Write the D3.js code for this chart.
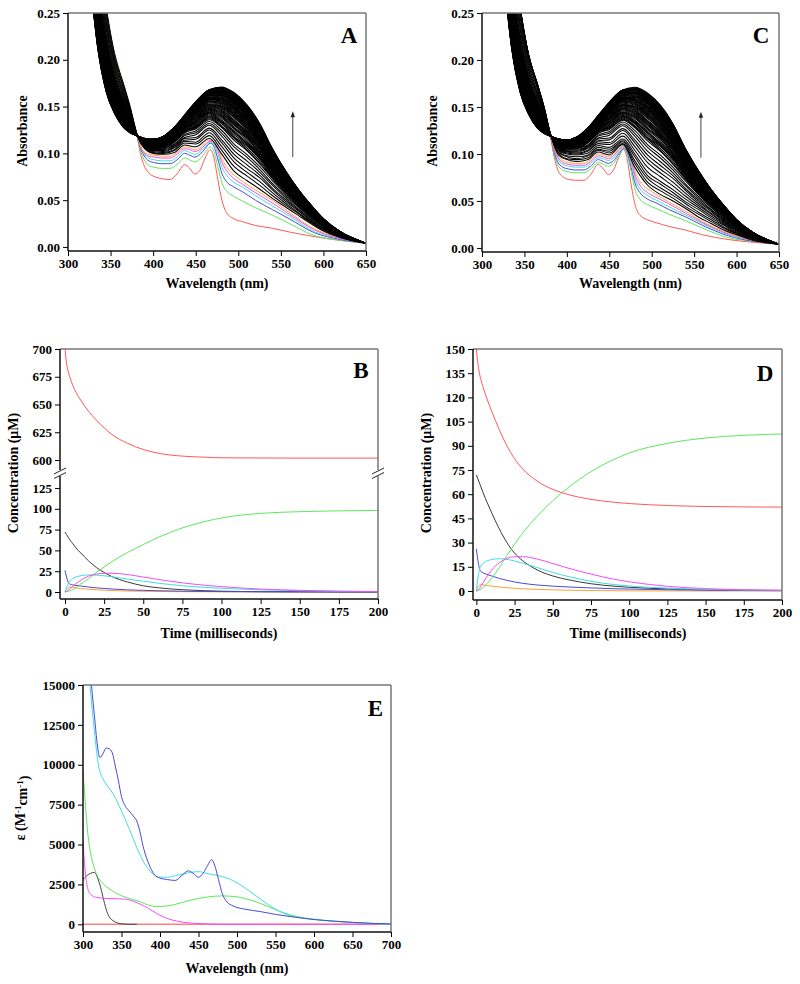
<!DOCTYPE html>
<html><head><meta charset="utf-8">
<script src="https://cdn.jsdelivr.net/npm/d3@7/dist/d3.min.js"></script>
<style>
body{margin:0;background:#fff;}
svg text{font-family:"Liberation Serif","Times New Roman",serif;font-weight:bold;fill:#000;}
.tick text{font-size:13px;}
.tick line{stroke:#000;stroke-width:1;}
.ttl{font-size:14px;}
.lbl{font-size:23px;}
</style></head><body>
<svg id="chart" width="800" height="984"></svg>
<script>
// ---------- Panels A / C : spectral time course (absorbance x1000) ----------
const BAND_WL = [325,335,345,355,365,373,381,390,400,412,425,437,450,466,480,495,510,525,540,555,570,585,600,620,650];
const bandSpectra = [
[400,320,255,205,175,150,120,105,100,99,101,109,107,116,100,81,71,62,52,43,34,25,17,10,4],
[394,314,250,201,172,148,120,106,101,100,103,111,110,119,104,86,76,66,55,45,36,26,18,10,4],
[388,308,245,198,170,147,120,106,102,101,104,113,112,122,108,91,80,70,58,47,37,27,19,11,4],
[383,302,240,195,167,145,120,107,103,102,106,114,115,125,112,95,84,74,61,49,39,28,19,11,4],
[378,297,236,192,165,144,120,107,103,103,107,116,117,127,115,99,88,77,63,51,40,29,20,11,4],
[373,292,232,189,163,143,120,108,104,104,108,117,120,130,119,103,92,80,66,53,41,30,20,12,4],
[368,287,227,186,161,141,120,108,105,105,109,119,122,132,122,107,96,83,68,55,43,31,21,12,4],
[363,282,224,183,159,140,120,109,105,106,110,120,124,134,125,110,99,86,71,57,44,32,22,12,4],
[359,278,220,181,157,139,120,109,106,106,112,122,126,136,128,114,103,89,73,58,45,33,22,12,4],
[355,274,217,178,155,138,120,110,106,107,113,123,128,138,130,117,106,92,75,60,46,34,23,13,4],
[351,270,213,176,153,137,120,110,107,108,114,124,129,140,133,120,109,95,77,61,47,34,23,13,4],
[348,266,210,174,152,136,120,111,108,109,115,125,131,142,135,123,111,97,78,62,48,35,24,13,4],
[344,263,207,172,150,135,120,111,108,109,115,126,133,144,138,126,114,99,80,64,49,36,24,13,4],
[341,259,204,170,149,134,119,111,108,110,116,127,134,145,140,128,117,101,82,65,50,36,24,13,4],
[338,256,202,168,147,133,119,112,109,110,117,128,135,147,142,131,119,104,83,66,51,37,25,14,4],
[335,253,199,166,146,133,119,112,109,111,118,129,137,148,144,133,121,105,85,67,51,37,25,14,4],
[332,250,197,164,145,132,119,112,110,111,119,130,138,150,146,135,123,107,86,68,52,38,25,14,4],
[329,247,195,163,143,131,119,112,110,112,119,131,139,151,148,138,126,109,88,69,53,39,26,14,4],
[327,245,192,161,142,131,119,113,111,112,120,131,141,152,150,140,127,111,89,70,54,39,26,14,4],
[324,242,190,160,141,130,119,113,111,113,120,132,142,153,151,142,129,112,90,71,54,39,26,14,4],
[322,240,188,158,140,129,119,113,111,113,121,133,143,155,153,143,131,114,91,72,55,40,27,14,4],
[320,238,186,157,139,129,119,113,111,114,122,133,144,156,154,145,133,115,92,73,55,40,27,15,4],
[318,236,185,156,138,128,119,114,112,114,122,134,145,157,156,147,134,117,94,74,56,41,27,15,4],
[316,234,183,155,137,128,119,114,112,114,123,135,145,158,157,148,136,118,94,74,56,41,27,15,4],
[314,232,181,153,137,127,119,114,112,115,123,135,146,159,158,150,137,119,95,75,57,41,28,15,4],
[312,230,180,152,136,127,119,114,113,115,124,136,147,159,159,151,139,121,96,76,57,42,28,15,4],
[311,228,178,151,135,126,119,114,113,115,124,136,148,160,160,153,140,122,97,76,58,42,28,15,4],
[309,226,177,150,134,126,119,115,113,116,124,137,149,161,162,154,141,123,98,77,58,42,28,15,4],
[307,225,176,150,134,125,119,115,113,116,125,137,149,162,163,155,142,124,99,77,59,43,29,15,4],
[306,223,175,149,133,125,119,115,113,116,125,138,150,163,164,156,144,125,99,78,59,43,29,15,4],
[305,222,173,148,132,125,119,115,114,116,126,138,151,163,165,157,145,126,100,78,59,43,29,15,4],
[303,221,172,147,132,124,119,115,114,117,126,138,151,164,165,158,146,126,101,79,60,43,29,16,4],
[302,219,171,146,131,124,119,115,114,117,126,139,152,165,166,159,147,127,101,79,60,44,29,16,4],
[301,218,170,146,131,124,119,115,114,117,127,139,152,165,167,160,147,128,102,80,60,44,29,16,4],
[300,217,169,145,130,123,119,116,114,117,127,140,153,166,168,161,148,129,103,80,61,44,29,16,4],
[299,216,168,144,130,123,119,116,115,117,127,140,153,166,168,162,149,130,103,81,61,44,30,16,4],
[298,215,167,144,129,123,119,116,115,118,127,140,154,167,169,163,150,130,104,81,61,45,30,16,4],
[297,214,167,143,129,122,119,116,115,118,128,140,154,167,170,164,151,131,104,81,62,45,30,16,4],
[296,213,166,143,128,122,119,116,115,118,128,141,155,168,170,164,151,131,105,82,62,45,30,16,4],
[295,212,165,142,128,122,119,116,115,118,128,141,155,168,171,165,152,132,105,82,62,45,30,16,4]
];
// later spectra recorded between the ones above (dense part of the band)
const bandSpectraLate = [
[357,276,218,180,156,138,120,110,106,106,112,122,127,137,129,116,104,90,74,59,46,34,22,12,4],
[353,272,215,177,154,138,120,110,106,108,114,124,128,139,132,118,108,94,76,60,46,34,23,13,4],
[350,268,212,175,152,136,120,110,108,108,114,124,130,141,134,122,110,96,78,62,48,34,24,13,4],
[346,264,208,173,151,136,120,111,108,109,115,126,132,143,136,124,112,98,79,63,48,36,24,13,4],
[342,261,206,171,150,134,120,111,108,110,116,126,134,144,139,127,116,100,81,64,50,36,24,13,4],
[340,258,203,169,148,134,119,112,108,110,116,128,134,146,141,130,118,102,82,66,50,36,24,14,4],
[336,254,200,167,146,133,119,112,109,110,118,128,136,148,143,132,120,104,84,66,51,37,25,14,4],
[334,252,198,165,146,132,119,112,110,111,118,130,138,149,145,134,122,106,86,68,52,38,25,14,4],
[330,248,196,164,144,132,119,112,110,112,119,130,138,150,147,136,124,108,87,68,52,38,26,14,4],
[328,246,194,162,142,131,119,112,110,112,120,131,140,152,149,139,126,110,88,70,54,39,26,14,4],
[326,244,191,160,142,130,119,113,111,112,120,132,142,152,150,141,128,112,90,70,54,39,26,14,4],
[323,241,189,159,140,130,119,113,111,113,120,132,142,154,152,142,130,113,90,72,54,40,26,14,4],
[321,239,187,158,140,129,119,113,111,114,122,133,144,156,154,144,132,114,92,72,55,40,27,14,4],
[319,237,186,156,138,128,119,114,112,114,122,134,144,156,155,146,134,116,93,74,56,40,27,15,4],
[317,235,184,156,138,128,119,114,112,114,122,134,145,158,156,148,135,118,94,74,56,41,27,15,4],
[315,233,182,154,137,128,119,114,112,114,123,135,146,158,158,149,136,118,94,74,56,41,28,15,4],
[313,231,180,152,136,127,119,114,112,115,124,136,146,159,158,150,138,120,96,76,57,42,28,15,4],
[312,229,179,152,136,126,119,114,113,115,124,136,148,160,160,152,140,122,96,76,58,42,28,15,4],
[310,227,178,150,134,126,119,114,113,116,124,136,148,160,161,154,140,122,98,76,58,42,28,15,4],
[308,226,176,150,134,126,119,115,113,116,124,137,149,162,162,154,142,124,98,77,58,42,28,15,4],
[306,224,176,150,134,125,119,115,113,116,125,138,150,162,164,156,143,124,99,78,59,43,29,15,4],
[306,222,174,148,132,125,119,115,114,116,126,138,150,163,164,156,144,126,100,78,59,43,29,15,4],
[304,222,172,148,132,124,119,115,114,116,126,138,151,164,165,158,146,126,100,78,60,43,29,16,4],
[302,220,172,146,132,124,119,115,114,117,126,138,152,164,166,158,146,126,101,79,60,44,29,16,4],
[302,218,170,146,131,124,119,115,114,117,126,139,152,165,166,160,147,128,102,80,60,44,29,16,4],
[300,218,170,146,130,124,119,116,114,117,127,140,152,166,168,160,148,128,102,80,60,44,29,16,4],
[300,216,168,144,130,123,119,116,114,117,127,140,153,166,168,162,148,130,103,80,61,44,30,16,4],
[298,216,168,144,130,123,119,116,115,118,127,140,154,166,168,162,150,130,104,81,61,44,30,16,4],
[298,214,167,144,129,122,119,116,115,118,128,140,154,167,170,164,150,130,104,81,62,45,30,16,4],
[296,214,166,143,128,122,119,116,115,118,128,140,154,168,170,164,151,131,104,82,62,45,30,16,4],
[296,212,166,142,128,122,119,116,115,118,128,141,155,168,170,164,152,132,105,82,62,45,30,16,4]
];
// panel C: first black spectra, lying just above its orange trace
const bandSpectraEarlyC = [
[400,320,255,205,175,150,120,99,94,92,94,102,99,110,86,67,57,50,42,33,26,19,14,8,4],
[400,320,255,205,175,150,120,101,95,94,96,104,101,111,90,70,61,53,44,36,28,21,15,9,4],
[400,320,255,205,175,150,120,102,97,95,98,105,103,113,93,74,64,56,47,38,30,22,15,9,4],
[400,320,255,205,175,150,120,104,98,97,99,107,105,114,97,77,68,59,49,41,32,24,16,10,4]
];
const COL_WL = [340,350,360,370,376,381,385,389,395,402,410,420,428,437,443,449,455,461,467,471,476,481,486,495,505,520,540,560,590,620,650];
const redA     = [284,226,188,157,138,119,100,88,79,75,73,72,78,88,84,78,82,95,104,97,72,49,37,30,27,23,20,16,11,7,4];
const greenA   = [284,226,188,157,138,120,104,94,87,85,84,84,88,95,93,91,94,101,107,103,86,68,60,54,49,42,34,25,12,7,4];
const blueA    = [284,226,188,157,138,120,106,98,92,90,89,89,93,100,98,96,99,105,111,108,94,78,70,64,59,50,40,30,15,8,4];
const cyanA    = [284,226,188,157,138,120,107,100,95,93,92,92,96,103,101,99,102,107,112,110,99,85,77,69,64,55,44,33,16,9,4];
const magentaA = [284,226,188,157,138,120,108,101,97,96,95,95,99,105,104,102,104,109,113,111,103,90,82,73,67,58,47,35,18,9,4];
const orangeA  = [284,226,188,157,138,120,109,102,99,98,97,97,101,107,106,104,106,111,114,113,106,94,86,77,70,61,50,37,19,10,4];
const redC     = [284,226,188,157,138,117,97,84,76,73,72,72,78,89,84,78,83,96,105,95,66,44,35,30,27,23,19,14,9,6,4];
const greenC   = [284,226,188,157,138,118,100,89,83,81,80,80,84,91,89,87,90,98,105,100,80,60,52,46,42,36,29,21,11,7,4];
const blueC    = [284,226,188,157,138,118,102,92,86,84,83,83,87,94,92,90,93,100,106,102,85,67,59,52,48,41,33,24,13,7,4];
const cyanC    = [284,226,188,157,138,119,104,95,89,87,86,86,90,96,95,93,96,102,107,104,89,72,63,56,51,44,35,26,14,8,4];
const magentaC = [284,226,188,157,138,119,105,97,91,89,88,88,92,98,97,95,98,104,108,105,92,76,67,59,54,47,37,27,15,8,4];
const orangeC  = [284,226,188,157,138,120,107,99,93,91,90,90,94,100,99,97,100,105,109,106,95,80,71,63,57,49,39,28,16,8,4];

// ---------- Panels B / D : concentrations (µM) vs time (ms) ----------
const TIME_MS = [0,1,2,3,4,5,7,10,15,20,25,30,40,50,60,75,90,100,125,150,175,200];
const bRed     = [700,687,680,675,671,667,661,654,644,636,629,623,615,609.5,606,603.5,602.5,602,601.8,601.7,601.7,601.7];
const bGreen   = [0,0.3,0.8,1.5,2.2,3,5,9.5,16,23.5,30,36.5,47.5,57,66,77,85,89,94.5,96.5,97.5,98];
const bBlack   = [72,69,66,63,60.5,58,53,47,37.5,29.5,23.5,18.5,12,7.5,5,2.8,1.5,1,0.4,0.2,0.1,0];
const bBlue    = [26,18,12,9.5,9,8.5,7.9,7.2,6,5,4.3,3.6,2.6,2,1.5,1,0.7,0.5,0.3,0.2,0.1,0.1];
const bCyan    = [0,5,10,13,15,16.2,18,19.5,20.5,20.3,19.5,18.3,15.5,13,10.5,7.5,5.5,4.5,2.7,1.6,0.9,0.5];
const bMagenta = [0,0.8,2,4,5.5,7,10,14,19,21.5,22.5,22.5,21,18,15,11,8,6.5,3.5,2,1,0.5];
const bOrange  = [0,3.5,5.5,6,6,5.7,5,4.2,3.3,2.7,2.2,1.8,1.2,0.9,0.6,0.4,0.3,0.2,0.1,0,0,0];
const dRed     = [150,141,135,131,127.5,124.5,119,111.5,100,90,82,76,68,63,59.8,56.8,55,54.2,53,52.4,52.1,52];
const dGreen   = [0,0.2,0.6,1.2,1.9,2.7,4.5,8,14.5,22,29,35.5,46.5,56,64,74,81.5,85.5,91.5,94.8,96.5,97.3];
const dBlack   = [72,69.5,67,64.5,62,59.5,55,48.5,38.5,30,23.5,19,13,9.3,7,4.5,3,2.3,1.3,0.7,0.4,0.3];
const dBlue    = [26,19,14,12,11.4,11,10.2,9.3,7.8,6.6,5.6,4.8,3.7,3,2.5,1.9,1.4,1.2,0.8,0.5,0.3,0.2];
const dCyan    = [0,8,13,15.5,16.8,17.6,18.7,19.5,20,19.6,18.6,17.3,14.5,11.5,9,6,4,3.1,1.8,1,0.6,0.4];
const dMagenta = [0,0.5,1.5,3,4.5,6,9,13,17.5,20.2,21.2,21.3,19.8,17,14.2,10.5,7.3,5.7,2.9,1.5,0.8,0.5];
const dOrange  = [0,2.5,3.6,4,3.9,3.7,3.4,3,2.5,2,1.7,1.4,1,0.7,0.5,0.3,0.2,0.1,0.05,0,0,0];

// ---------- Panel E : species spectra, epsilon (M-1 cm-1) ----------
const eBlueWL  = [305,311,315,318,322,326,330,334,338,342,346,350,355,360,365,370,374,378,383,388,393,400,410,420,428,437,443,450,456,462,467,471,476,481,487,495,510,530,550,575,600,625,650,675,700];
const eBlue    = [19000,15000,13000,11500,10450,10700,11050,11000,10750,9900,9000,8000,7400,7100,6800,6450,5800,4900,4100,3500,3100,2900,2800,2750,3050,3350,3200,2950,3200,3700,4050,3700,2800,1900,1400,1150,950,800,620,450,300,200,120,60,20];
const eCyanWL  = [305,309,315,320,325,330,340,350,360,370,380,390,400,410,420,430,440,450,460,470,480,490,500,510,520,530,540,550,560,570,580,590,600,625,650,675,700];
const eCyan    = [17000,15000,12000,10000,9200,8800,8100,7100,6000,4800,3800,3200,2950,2950,3050,3150,3250,3300,3200,3100,3000,2850,2600,2300,1950,1600,1250,950,700,520,420,360,300,190,110,50,10];
const eGreenWL = [300,303,306,309,313,318,325,335,345,355,365,375,385,395,405,420,435,450,465,480,495,510,525,540,555,570,585,600,625,650,675,700];
const eGreen   = [9700,7600,5800,4700,3800,3100,2600,2200,1900,1700,1550,1400,1200,1120,1130,1250,1450,1620,1730,1780,1750,1620,1400,1120,820,580,420,320,200,120,50,10];
const eMagWL   = [300,302,305,308,312,318,330,345,355,365,375,385,395,405,415,430,445,460,480,700];
const eMag     = [5200,3800,2500,2000,1800,1680,1620,1600,1580,1450,1250,1000,700,450,280,130,60,20,0,0];
const eGrayWL  = [300,305,310,315,319,323,327,331,335,340,345,352,360,370];
const eGray    = [2800,3050,3200,3250,2900,2300,1500,800,400,200,80,20,0,0];
const eRedWL   = [300,700];
const eRed     = [0,0];

const COLORS = {red:'#ff5757', green:'#5ee65e', blue:'#4a4ad8', cyan:'#3fdede', magenta:'#f44cf4', orange:'#ffa03c', dark:'#3a3a3a'};

const svg = d3.select('#chart');
let clipId = 0;
function clip(x0,y0,x1,y1){
  const id='c'+(clipId++);
  svg.append('clipPath').attr('id',id).append('rect').attr('x',x0).attr('y',y0).attr('width',x1-x0).attr('height',y1-y0);
  return 'url(#'+id+')';
}
function frame(x0,y0,x1,y1){
  svg.append('line').attr('x1',x0).attr('y1',y0).attr('x2',x1).attr('y2',y0).attr('stroke','#777').attr('stroke-width',1.5);
  svg.append('line').attr('x1',x1).attr('y1',y0).attr('x2',x1).attr('y2',y1).attr('stroke','#777').attr('stroke-width',1.5);
}
function bottomAxis(x,yb,major,minor,fmt){
  const g=svg.append('g').attr('transform',`translate(0,${yb})`);
  g.call(d3.axisBottom(x).tickValues(minor).tickSize(3).tickFormat(''));
  g.call(d3.axisBottom(x).tickValues(major).tickSize(5).tickPadding(3).tickFormat(fmt));
  g.selectAll('.domain').remove();
  const r=x.range();
  svg.append('line').attr('x1',r[0]).attr('x2',r[1]).attr('y1',yb).attr('y2',yb).attr('stroke','#111').attr('stroke-width',1.5);
}
function leftAxis(y,xl,major,minor,fmt,drawLine=true){
  const g=svg.append('g').attr('transform',`translate(${xl},0)`);
  g.call(d3.axisLeft(y).tickValues(minor).tickSize(3).tickFormat(''));
  g.call(d3.axisLeft(y).tickValues(major).tickSize(5).tickPadding(3).tickFormat(fmt));
  g.selectAll('.domain').remove();
  if(drawLine){const r=y.range();
  svg.append('line').attr('x1',xl).attr('x2',xl).attr('y1',r[0]).attr('y2',r[1]).attr('stroke','#111').attr('stroke-width',1.5);}
}
function vTitle(txt,x,y){
  return svg.append('text').attr('class','ttl').attr('transform',`translate(${x},${y}) rotate(-90)`).attr('text-anchor','middle').attr('dy','0.35em').text(txt);
}
function hTitle(txt,x,y){
  svg.append('text').attr('class','ttl').attr('x',x).attr('y',y).attr('text-anchor','middle').text(txt);
}
function letter(t,x,y){
  svg.append('text').attr('class','lbl').attr('x',x).attr('y',y).attr('text-anchor','middle').text(t);
}
function arrow(x,yTop,yBot){
  svg.append('line').attr('x1',x).attr('x2',x).attr('y1',yBot).attr('y2',yTop+4).attr('stroke','#444').attr('stroke-width',1);
  svg.append('path').attr('d',`M${x},${yTop} L${x-2.2},${yTop+6} L${x+2.2},${yTop+6} Z`).attr('fill','#222');
}

// ---------- spectra panels ----------
function spectraPanel(cfg){
  const x=d3.scaleLinear().domain([300,650]).range([cfg.x0,cfg.x1]);
  const y=d3.scaleLinear().domain([-0.0043,0.25]).range([cfg.yb,cfg.yt]);
  const cp=clip(cfg.x0,cfg.yt,cfg.x1,cfg.yb);
  const g=svg.append('g').attr('clip-path',cp);
  const line=d3.line().x(d=>x(d[0])).y(d=>y(d[1]/1000)).curve(d3.curveMonotoneX);
  cfg.colored.forEach(([arr,col])=>{
    g.append('path').attr('d',line(COL_WL.map((w,i)=>[w,arr[i]]))).attr('fill','none').attr('stroke',col).attr('stroke-width',1);
  });
  cfg.extraBlack.concat(bandSpectra,bandSpectraLate).forEach(row=>{
    g.append('path').attr('d',line(BAND_WL.map((w,i)=>[w,row[i]]))).attr('fill','none').attr('stroke','#000').attr('stroke-width',1.05);
  });
  frame(cfg.x0,cfg.yt,cfg.x1,cfg.yb);
  bottomAxis(x,cfg.yb,d3.range(300,651,50),d3.range(325,650,50),d3.format('d'));
  leftAxis(y,cfg.x0,d3.range(0,0.2501,0.05),d3.range(0.025,0.25,0.05),d3.format('.2f'));
  vTitle('Absorbance',cfg.tx,131);
  hTitle('Wavelength (nm)',(cfg.x0+cfg.x1)/2,288);
  letter(cfg.letter,cfg.lx,43);
  arrow(x(cfg.arrowWl),y(0.145),y(0.096));
}
spectraPanel({x0:68,x1:366,yt:13,yb:251,tx:22,lx:349,letter:'A',arrowWl:564,extraBlack:[],
  colored:[[redA,COLORS.red],[greenA,COLORS.green],[blueA,COLORS.blue],[cyanA,COLORS.cyan],[magentaA,COLORS.magenta],[orangeA,COLORS.orange]]});
spectraPanel({x0:482,x1:779,yt:13,yb:252,tx:432,lx:761,letter:'C',arrowWl:558,extraBlack:bandSpectraEarlyC,
  colored:[[redC,COLORS.red],[greenC,COLORS.green],[blueC,COLORS.blue],[cyanC,COLORS.cyan],[magentaC,COLORS.magenta],[orangeC,COLORS.orange]]});

// ---------- panel B (broken axis) ----------
(function(){
  const x0=60,x1=378,yt=349,yb=599,bTop=470,bBot=476;
  const x=d3.scaleLinear().domain([-3.2,200]).range([x0,x1]);
  const yU=d3.scaleLinear().domain([591,700]).range([bTop,yt]);
  const yL=d3.scaleLinear().domain([-8.4,139.4]).range([yb,bBot]);
  const gU=svg.append('g').attr('clip-path',clip(x0,yt,x1,bTop));
  const gL=svg.append('g').attr('clip-path',clip(x0,bBot,x1,yb));
  const mk=(ys)=>d3.line().x((d,i)=>x(TIME_MS[i])).y(d=>ys(d)).curve(d3.curveMonotoneX);
  gU.append('path').attr('d',mk(yU)(bRed)).attr('fill','none').attr('stroke',COLORS.red).attr('stroke-width',1);
  [[bOrange,COLORS.orange],[bBlack,COLORS.dark],[bBlue,COLORS.blue],[bCyan,COLORS.cyan],[bGreen,COLORS.green],[bMagenta,COLORS.magenta]].forEach(([a,c])=>{
    gL.append('path').attr('d',mk(yL)(a)).attr('fill','none').attr('stroke',c).attr('stroke-width',1);
  });
  svg.append('line').attr('x1',x0).attr('x2',x1).attr('y1',yt).attr('y2',yt).attr('stroke','#777').attr('stroke-width',1.5);
  [[x1,'#777'],[x0,'#111']].forEach(([xx,c])=>{
    svg.append('line').attr('x1',xx).attr('x2',xx).attr('y1',yt).attr('y2',bTop).attr('stroke',c).attr('stroke-width',1.5);
    svg.append('line').attr('x1',xx).attr('x2',xx).attr('y1',bBot).attr('y2',yb).attr('stroke',c).attr('stroke-width',1.5);
    [bTop+1,bBot-0.5].forEach(yy=>svg.append('line').attr('x1',xx-6).attr('y1',yy+3).attr('x2',xx+6).attr('y2',yy-3).attr('stroke','#222').attr('stroke-width',1));
  });
  bottomAxis(x,yb,d3.range(0,201,25),d3.range(12.5,200,25),d3.format('d'));
  leftAxis(yU,x0,d3.range(600,701,25),d3.range(612.5,700,25),d3.format('d'),false);
  leftAxis(yL,x0,d3.range(0,126,25),d3.range(12.5,139,25),d3.format('d'),false);
  vTitle('Concentration (\u03BCM)',13,473);
  hTitle('Time (milliseconds)',(x0+x1)/2,638);
  letter('B',361,378);
})();

// ---------- panel D ----------
(function(){
  const x0=473,x1=782,yt=349,yb=600;
  const x=d3.scaleLinear().domain([-2.2,200]).range([x0,x1]);
  const y=d3.scaleLinear().domain([-5.58,150]).range([yb,yt]);
  const g=svg.append('g').attr('clip-path',clip(x0,yt,x1,yb));
  const ln=d3.line().x((d,i)=>x(TIME_MS[i])).y(d=>y(d)).curve(d3.curveMonotoneX);
  [[dOrange,COLORS.orange],[dBlack,COLORS.dark],[dBlue,COLORS.blue],[dCyan,COLORS.cyan],[dGreen,COLORS.green],[dMagenta,COLORS.magenta],[dRed,COLORS.red]].forEach(([a,c])=>{
    g.append('path').attr('d',ln(a)).attr('fill','none').attr('stroke',c).attr('stroke-width',1);
  });
  frame(x0,yt,x1,yb);
  bottomAxis(x,yb,d3.range(0,201,25),d3.range(12.5,200,25),d3.format('d'));
  leftAxis(y,x0,d3.range(0,151,15),d3.range(7.5,150,15),d3.format('d'));
  vTitle('Concentration (\u03BCM)',426,473);
  hTitle('Time (milliseconds)',628,638);
  letter('D',765,381);
})();

// ---------- panel E ----------
(function(){
  const x0=83,x1=391,yt=685,yb=932;
  const x=d3.scaleLinear().domain([300,700]).range([x0,x1]);
  const y=d3.scaleLinear().domain([-483,15000]).range([yb,yt]);
  const g=svg.append('g').attr('clip-path',clip(x0,yt,x1,yb));
  const ln=d3.line().x(d=>x(d[0])).y(d=>y(d[1])).curve(d3.curveMonotoneX);
  const z=(w,v)=>w.map((a,i)=>[a,v[i]]);
  [[eRedWL,eRed,'#ff8080',1.6],[eGrayWL,eGray,'#444',1],[eMagWL,eMag,COLORS.magenta,1],[eGreenWL,eGreen,COLORS.green,1],[eCyanWL,eCyan,COLORS.cyan,1],[eBlueWL,eBlue,COLORS.blue,1]].forEach(([w,v,c,sw])=>{
    g.append('path').attr('d',ln(z(w,v))).attr('fill','none').attr('stroke',c).attr('stroke-width',sw);
  });
  frame(x0,yt,x1,yb);
  bottomAxis(x,yb,d3.range(300,701,50),d3.range(325,700,50),d3.format('d'));
  leftAxis(y,x0,d3.range(0,15001,2500),d3.range(1250,15000,2500),d3.format('d'));
  const t=svg.append('text').attr('class','ttl').attr('transform',`translate(20,808) rotate(-90)`).attr('text-anchor','middle').attr('dy','0.35em');
  t.append('tspan').text('\u03B5 (M');
  t.append('tspan').attr('dy','-0.45em').attr('font-size','9px').text('-1');
  t.append('tspan').attr('dy','0.45em').text('cm');
  t.append('tspan').attr('dy','-0.45em').attr('font-size','9px').text('-1');
  t.append('tspan').attr('dy','0.45em').text(')');
  hTitle('Wavelength (nm)',237,973);
  letter('E',375.5,716);
})();
</script>
</body></html>
